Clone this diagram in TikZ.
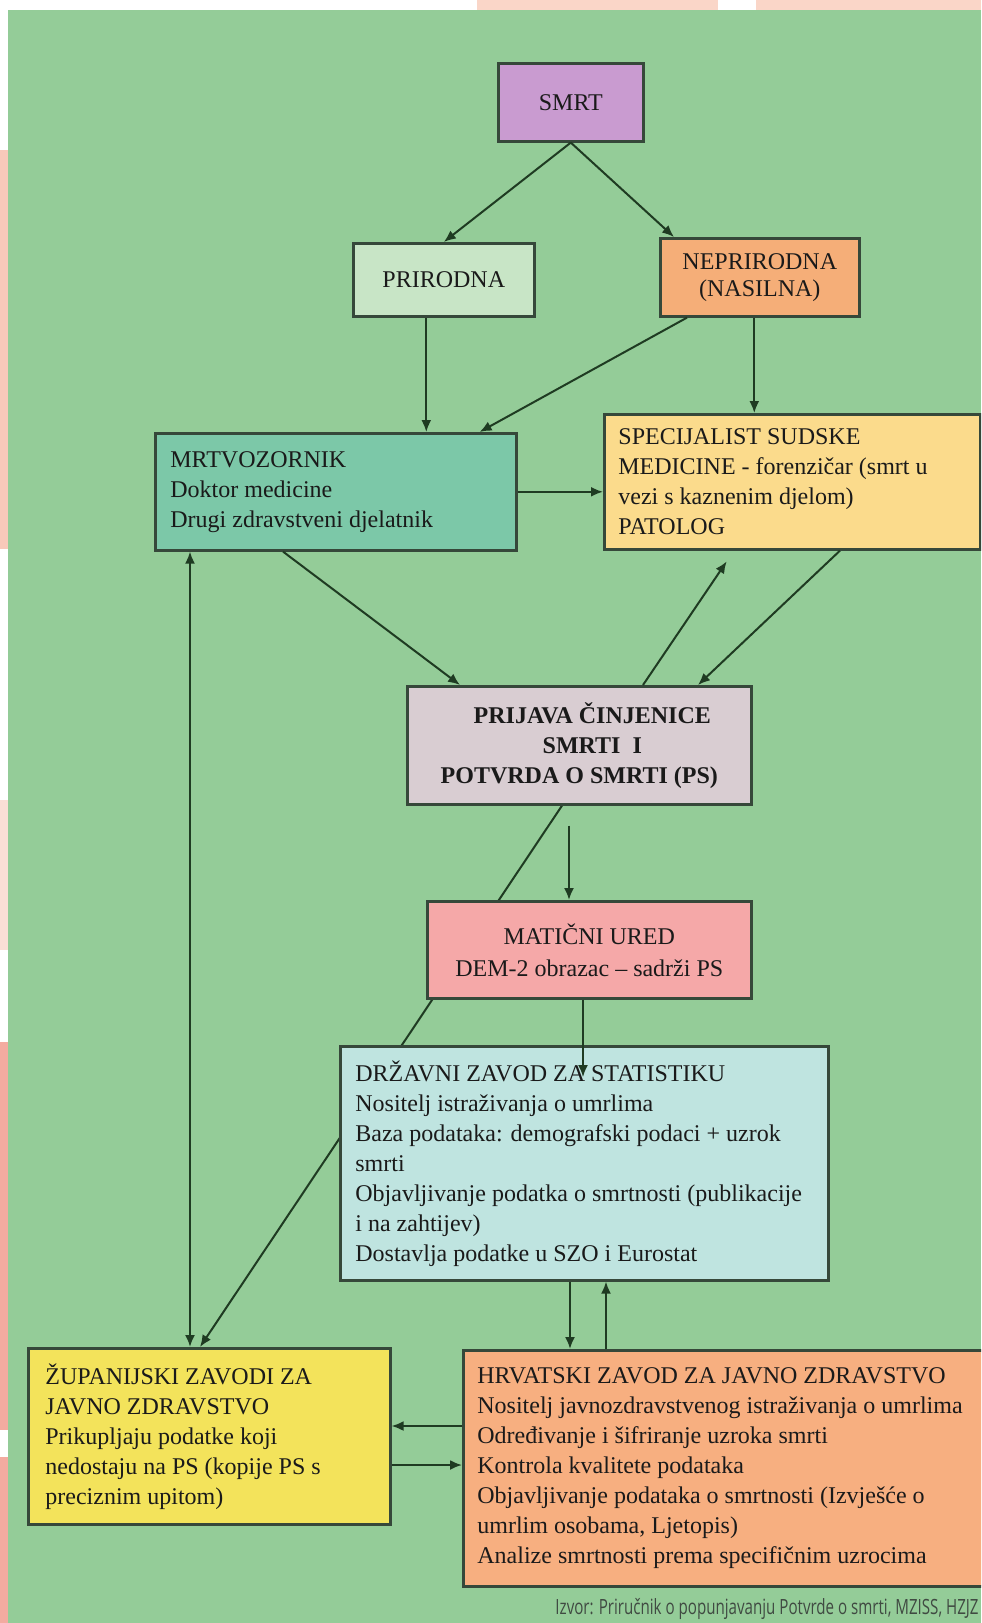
\documentclass[tikz,border=0pt]{standalone}
\usepackage{fontspec}
\setmainfont{Liberation Serif}
\newfontfamily\izvorfont[FakeStretch=0.72]{Open Sans}
\usetikzlibrary{arrows.meta,calc}
\pgfdeclarelayer{bgl}
\pgfdeclarelayer{lines}
\pgfsetlayers{bgl,lines,main}

\definecolor{bggreen}{HTML}{94CC98}
\definecolor{smrtc}{HTML}{C99BD0}
\definecolor{prirc}{HTML}{C8E5C6}
\definecolor{neprc}{HTML}{F5AE78}
\definecolor{mrtvc}{HTML}{7CC8A8}
\definecolor{specc}{HTML}{FBDB8C}
\definecolor{prijc}{HTML}{D9CDD2}
\definecolor{matc}{HTML}{F5A8A8}
\definecolor{dzsc}{HTML}{BFE4E0}
\definecolor{zupc}{HTML}{F3E35B}
\definecolor{hzjzc}{HTML}{F7AF80}
\definecolor{boxline}{HTML}{36483A}
\definecolor{arrc}{HTML}{1F3B22}
\definecolor{txt}{HTML}{1A1A1A}
\definecolor{strippink}{HTML}{FAD6C8}
\definecolor{leftpink}{HTML}{F8C9BA}
\definecolor{leftsalmon}{HTML}{F3ABA0}
\definecolor{izvorc}{HTML}{404A42}

\begin{document}
\begin{tikzpicture}[x=0.5pt,y=-0.5pt,
  box/.style={draw=boxline, line width=1.3pt, inner sep=0pt, anchor=north west,
    text=txt, font=\fontsize{12}{15}\selectfont},
  cbox/.style={box, align=center},
  ltext/.style={anchor=west, align=left, inner sep=0pt, text=txt,
    font=\fontsize{12}{15}\selectfont},
  arr/.style={draw=arrc, line width=1pt, -{Latex[length=6pt,width=5pt]}},
  arrtwo/.style={draw=arrc, line width=1pt, {Latex[length=6pt,width=5pt]}-{Latex[length=6pt,width=5pt]}}
]
\useasboundingbox (0,0) rectangle (981,1623);
\begin{pgfonlayer}{bgl}
  \fill[white] (0,0) rectangle (981,1623);
  \fill[strippink] (477,0) rectangle (718,10);
  \fill[strippink] (756,0) rectangle (981,10);
  \fill[leftpink] (0,150) rectangle (8,549);
  \fill[leftpink!60!white] (0,800) rectangle (8,950);
  \fill[leftsalmon] (0,1042) rectangle (8,1430);
  \fill[leftsalmon] (0,1457) rectangle (8,1623);
  \fill[bggreen] (8,10) rectangle (981,1623);
\end{pgfonlayer}
\clip (0,0) rectangle (981,1623);

% boxes
\node[cbox, fill=smrtc, minimum width=72.5pt, minimum height=39pt] (smrt) at (497,62) {SMRT};
\node[cbox, fill=prirc, minimum width=90.5pt, minimum height=36.5pt] (prirodna) at (352,242) {PRIRODNA};
\node[cbox, fill=neprc, minimum width=99.5pt, minimum height=39pt,
  font=\fontsize{12}{13.5}\selectfont] (nepr) at (659,237) {NEPRIRODNA\\(NASILNA)};
\node[box, fill=mrtvc, minimum width=180.5pt, minimum height=58.5pt] (mrtv) at (154,432) {};
\node[box, fill=specc, minimum width=188pt, minimum height=67.5pt] (spec) at (603,413) {};
\node[cbox, fill=prijc, minimum width=172pt, minimum height=59pt,
  font=\fontsize{12}{15}\selectfont\bfseries] (prijava) at (406,685)
  {\hspace*{13pt}PRIJAVA ČINJENICE\\\hspace*{13pt}SMRTI\ \ I\\POTVRDA O SMRTI (PS)};
\node[cbox, fill=matc, minimum width=162pt, minimum height=48.5pt,
  font=\fontsize{12}{16}\selectfont] (maticni) at (426,900)
  {MATIČNI URED\\DEM-2 obrazac – sadrži PS};
\node[box, fill=dzsc, minimum width=244pt, minimum height=117pt] (dzs) at (339,1045) {};
\node[box, fill=zupc, minimum width=181pt, minimum height=88pt] (zup) at (27,1347) {};
\node[box, fill=hzjzc, minimum width=262pt, minimum height=118pt] (hzjz) at (462,1349) {};

% box texts
\node[ltext] (mrtvt) at ([xshift=8pt]mrtv.west)
  {MRTVOZORNIK\\Doktor medicine\\Drugi zdravstveni djelatnik};
\node[ltext] (spect) at ([xshift=7.5pt]spec.west)
  {SPECIJALIST SUDSKE\\MEDICINE - forenzičar (smrt u\\vezi s kaznenim djelom)\\PATOLOG};
\node[ltext] (dzst) at ([xshift=8pt]dzs.west)
  {DRŽAVNI ZAVOD ZA STATISTIKU\\Nositelj istraživanja o umrlima\\Baza podataka: demografski podaci + uzrok\\smrti\\Objavljivanje podatka o smrtnosti (publikacije\\i na zahtijev)\\Dostavlja podatke u SZO i Eurostat};
\node[ltext] (zupt) at ([xshift=9pt]zup.west)
  {ŽUPANIJSKI ZAVODI ZA\\JAVNO ZDRAVSTVO\\Prikupljaju podatke koji\\nedostaju na PS (kopije PS s\\preciznim upitom)};
\node[ltext] (hzjzt) at ([xshift=7.5pt]hzjz.west)
  {HRVATSKI ZAVOD ZA JAVNO ZDRAVSTVO\\Nositelj javnozdravstvenog istraživanja o umrlima\\Određivanje i šifriranje uzroka smrti\\Kontrola kvalitete podataka\\Objavljivanje podataka o smrtnosti (Izvješće o\\umrlim osobama, Ljetopis)\\Analize smrtnosti prema specifičnim uzrocima};

\node[anchor=base east, inner sep=0pt, text=izvorc,
  font=\izvorfont\fontsize{10.5}{13}\selectfont] (izvor) at (979,1614)
  {Izvor: Priručnik o popunjavanju Potvrde o smrti, MZISS, HZJZ};

% long line behind boxes
\begin{pgfonlayer}{lines}
  \draw[arr] ([xshift=78pt]prijava.south west) -- ([xshift=86.5pt]zup.north west);
\end{pgfonlayer}

% connectors
\draw[arr] (smrt.south) -- (prirodna.north);
\draw[arr] (smrt.south) -- ([xshift=7.5pt]nepr.north west);
\coordinate (p1) at ([xshift=-8.75pt]prirodna.south);
\draw[arr] (p1) -- (p1 |- mrtv.north);
\draw[arr] ([xshift=14pt]nepr.south west) -- ([xshift=-19pt]mrtv.north east);
\coordinate (p2) at ([xshift=-2.75pt]nepr.south);
\draw[arr] (p2) -- (p2 |- spec.north);
\draw[arr] (mrtv.east) -- (mrtv.east -| spec.west);
\draw[arr] ([xshift=64.5pt]mrtv.south west) -- ([xshift=27pt]prijava.north west);
\draw[arr, shorten >=6.5pt] ([xshift=118.5pt]prijava.north west) -- ([xshift=65.5pt]spec.south west);
\draw[arr] ([xshift=118.5pt]spec.south west) -- ([xshift=146pt]prijava.north west);
\coordinate (p3) at ([xshift=81.5pt]prijava.south west);
\draw[arr, shorten <=10pt] (p3) -- (p3 |- maticni.north);
\coordinate (p4) at ([xshift=78.5pt]maticni.south west);
\coordinate (p4e) at ($(p4 |- dzs.north)+(0pt,-16pt)$);
\draw[arr, line width=0.9pt] (p4) -- (p4e);
\coordinate (p5) at ([xshift=18pt]mrtv.south west);
\draw[arrtwo] (p5) -- (p5 |- zup.north);
\coordinate (p6) at ([xshift=115.5pt]dzs.south west);
\draw[arr] (p6) -- (p6 |- hzjz.north);
\coordinate (p7) at ([xshift=133.5pt]dzs.south west);
\draw[arr] (p7 |- hzjz.north) -- (p7);
\coordinate (p8) at ([yshift=-38.5pt]hzjz.north west);
\draw[arr] (p8) -- (p8 -| zup.east);
\coordinate (p9) at ([yshift=-58pt]hzjz.north west);
\draw[arr] (p9 -| zup.east) -- (p9);
\end{tikzpicture}
\end{document}
